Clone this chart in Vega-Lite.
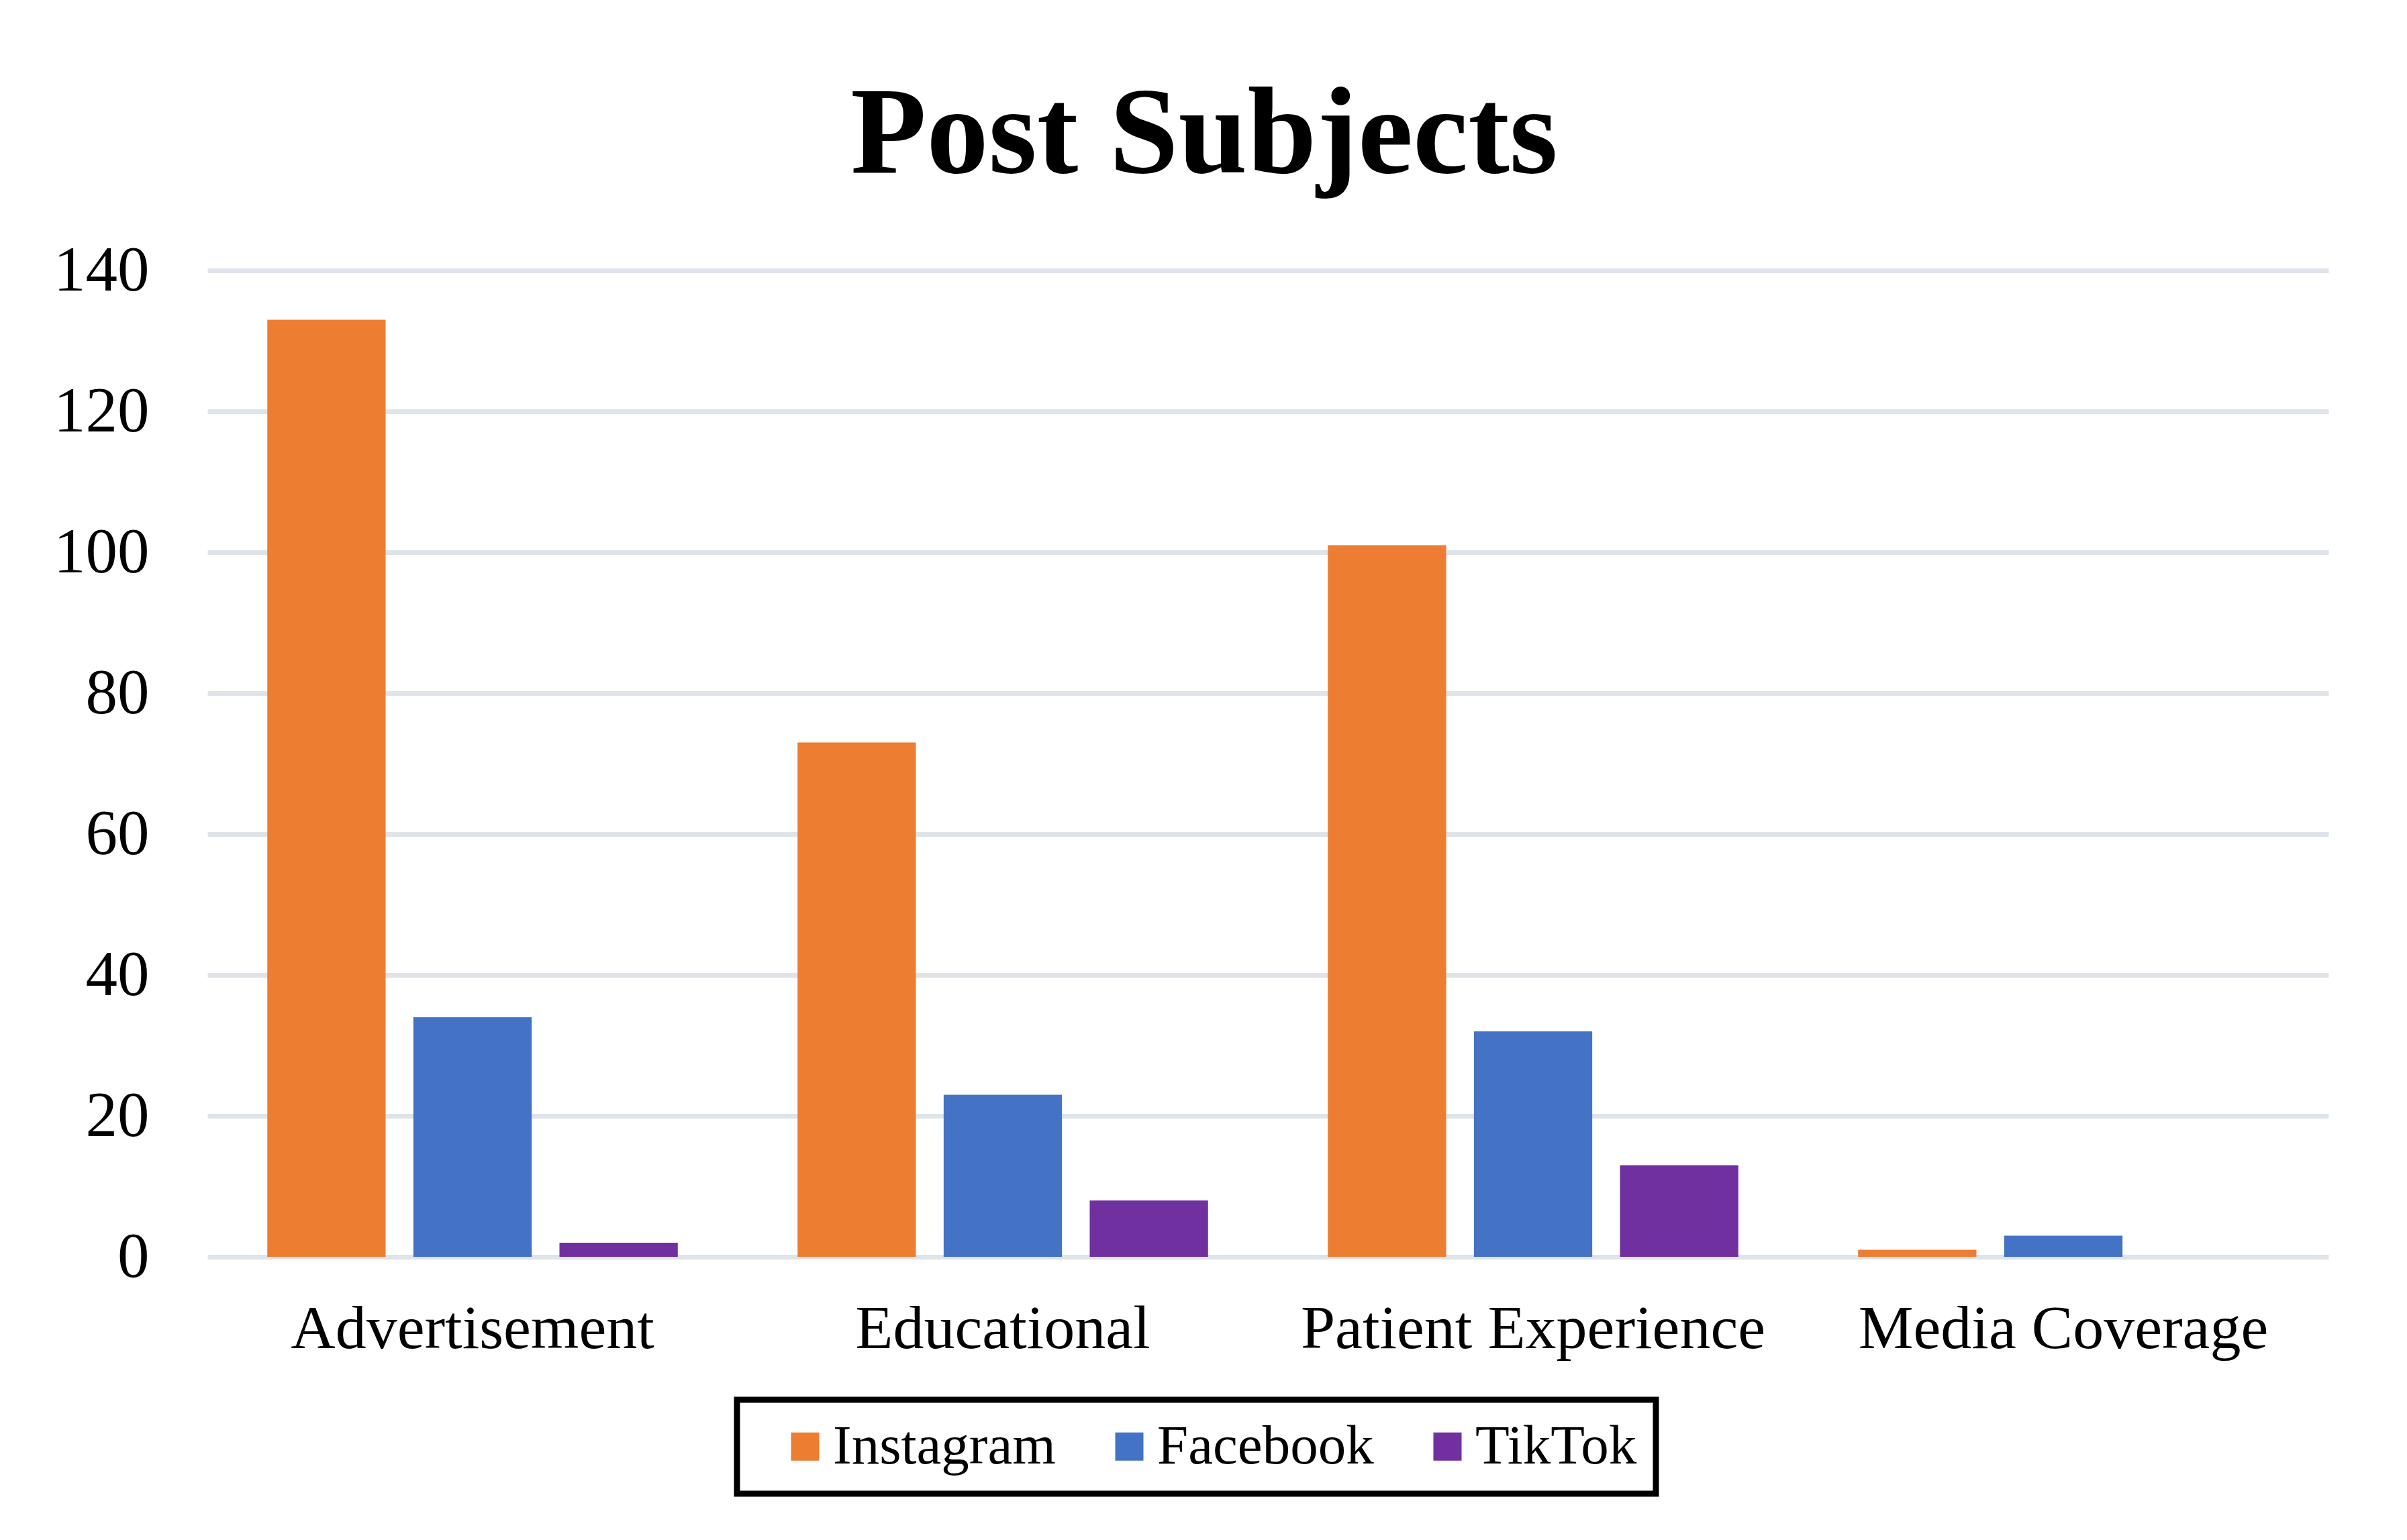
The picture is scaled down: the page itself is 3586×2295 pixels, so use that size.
{
  "$schema": "https://vega.github.io/schema/vega-lite/v6.json",
  "autosize": {"type": "none"},
  "width": 3160,
  "height": 1470,
  "padding": {"left": 309, "top": 403, "right": 117, "bottom": 422},
  "background": "white",
  "title": {
    "text": "Post Subjects",
    "font": "Liberation Serif",
    "fontWeight": "bold",
    "fontSize": 185,
    "color": "black",
    "anchor": "middle",
    "dx": -95,
    "offset": 60
  },
  "data": {
    "values": [
      {"subject": "Advertisement", "platform": "Instagram", "count": 133},
      {"subject": "Advertisement", "platform": "Facebook", "count": 34},
      {"subject": "Advertisement", "platform": "TikTok", "count": 2},
      {"subject": "Educational", "platform": "Instagram", "count": 73},
      {"subject": "Educational", "platform": "Facebook", "count": 23},
      {"subject": "Educational", "platform": "TikTok", "count": 8},
      {"subject": "Patient Experience", "platform": "Instagram", "count": 101},
      {"subject": "Patient Experience", "platform": "Facebook", "count": 32},
      {"subject": "Patient Experience", "platform": "TikTok", "count": 13},
      {"subject": "Media Coverage", "platform": "Instagram", "count": 1},
      {"subject": "Media Coverage", "platform": "Facebook", "count": 3},
      {"subject": "Media Coverage", "platform": "TikTok", "count": 0}
    ]
  },
  "mark": {"type": "bar"},
  "encoding": {
    "x": {
      "field": "subject",
      "type": "nominal",
      "sort": ["Advertisement", "Educational", "Patient Experience", "Media Coverage"],
      "scale": {"paddingInner": 0, "paddingOuter": 0},
      "axis": {
        "title": null,
        "labelAngle": 0,
        "domain": false,
        "ticks": false,
        "labelFont": "Liberation Serif",
        "labelFontSize": 92,
        "labelColor": "black",
        "labelPadding": 62,
        "labelLimit": 0
      }
    },
    "xOffset": {
      "field": "platform",
      "type": "nominal",
      "sort": ["Instagram", "Facebook", "TikTok"],
      "scale": {"paddingInner": 0.19, "paddingOuter": 0.41}
    },
    "y": {
      "field": "count",
      "type": "quantitative",
      "scale": {"domain": [0, 140]},
      "axis": {
        "title": null,
        "values": [0, 20, 40, 60, 80, 100, 120, 140],
        "domain": false,
        "ticks": false,
        "grid": true,
        "gridColor": "#dfe3ea",
        "gridWidth": 7,
        "labelFont": "Liberation Serif",
        "labelFontSize": 95,
        "labelColor": "black",
        "labelPadding": 87,
        "labelLimit": 0
      }
    },
    "color": {
      "field": "platform",
      "type": "nominal",
      "sort": ["Instagram", "Facebook", "TikTok"],
      "scale": {"domain": ["Instagram", "Facebook", "TikTok"], "range": ["#ED7D31", "#4472C4", "#7030A0"]},
      "legend": {
        "title": null,
        "orient": "none",
        "legendX": 789,
        "legendY": 1683,
        "direction": "horizontal",
        "strokeColor": "black",
        "fillColor": "white",
        "padding": 28,
        "symbolType": "square",
        "symbolSize": 1764,
        "symbolStrokeWidth": 0,
        "symbolOffset": 32,
        "labelFont": "Liberation Serif",
        "labelFontSize": 83,
        "labelColor": "black",
        "labelOffset": 0,
        "labelLimit": 0,
        "columnPadding": 36,
        "encode": {"legend": {"update": {"strokeWidth": {"value": 9}}}}
      }
    }
  },
  "config": {"view": {"stroke": null}}
}
